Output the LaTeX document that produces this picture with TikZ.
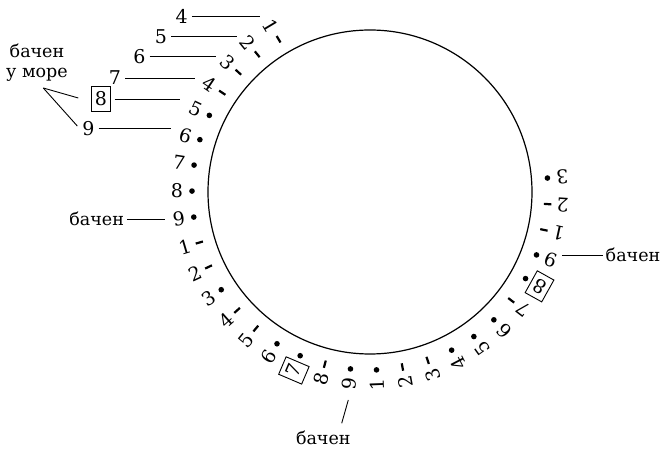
\documentclass[tikz,border=0pt]{standalone}
\usepackage{fontspec}
\setmainfont{DejaVu Serif}
\newfontfamily\diagfont{DejaVu Serif}
\begin{document}
\begin{tikzpicture}[x=1pt,y=1pt,
  lbl/.style={font=\diagfont\fontsize{19}{19}\selectfont, inner sep=0pt},
  word/.style={font=\diagfont\fontsize{17.5}{20}\selectfont, inner sep=0pt},
  boxlbl/.style={lbl, draw, line width=0.9pt, minimum width=19pt, minimum height=25pt},
  dashmark/.style={fill=black, draw=none, rectangle, inner sep=0pt, minimum width=7.5pt, minimum height=2.2pt},
  dotmark/.style={fill=black, draw=none, circle, inner sep=0pt, minimum size=5.6pt},
  leader/.style={line width=0.9pt}]
\useasboundingbox (-370,-257) rectangle (291,192);
\node[circle, draw, line width=1.2pt, minimum size=324pt, inner sep=0pt] (ring) at (0,0) {};
% marks
\foreach \i in {0,1,2,3,9,10,12,13,16,19,20,24,27,28} {
  \pgfmathsetmacro\a{120.9+8.4*\i}
  \node[dashmark, rotate=\a] (m\i) at (\a:178) {};
}
\foreach \i in {4,5,6,7,8,11,14,15,17,18,21,22,23,25,26,29} {
  \pgfmathsetmacro\a{120.9+8.4*\i}
  \node[dotmark] (m\i) at (\a:178) {};
}
% labels
\foreach \i in {0,...,14,16,17,18,19,20,21,22,23,24,26,27,28,29} {
  \pgfmathsetmacro\a{120.9+8.4*\i}
  \pgfmathsetmacro\rr{\a+180}
  \pgfmathtruncatemacro\d{mod(\i,9)+1}
  \node[lbl, rotate=\rr] (l\i) at (\a:193) {\d};
}
\foreach \i in {15,25} {
  \pgfmathsetmacro\a{120.9+8.4*\i}
  \pgfmathsetmacro\rr{\a+180}
  \pgfmathtruncatemacro\d{mod(\i,9)+1}
  \node[boxlbl, rotate=\rr] (l\i) at (\a:194) {\d};
}
% outer numbers, top left
\node[lbl] (o4) at (-188.3,175.3) {4};
\node[lbl] (o5) at (-209,155.3) {5};
\node[lbl] (o6) at (-230.7,135.5) {6};
\node[lbl] (o7) at (-255,114) {7};
\node[boxlbl] (o8) at (-269.2,93) {8};
\node[lbl] (o9) at (-281.7,63.7) {9};
\coordinate (e1) at (-110,175.3);
\coordinate (e2) at (-132.7,155.3);
\coordinate (e3) at (-154,135.5);
\coordinate (e4) at (-175,114);
\coordinate (e5) at (-190,93);
\coordinate (e6) at (-199.3,63.7);
\draw[leader, shorten <=4pt] (o4.east) -- (e1);
\draw[leader, shorten <=4pt] (o5.east) -- (e2);
\draw[leader, shorten <=4pt] (o6.east) -- (e3);
\draw[leader, shorten <=4pt] (o7.east) -- (e4);
\draw[leader, shorten <=4pt] (o8.east) -- (e5);
\draw[leader, shorten <=4pt] (o9.east) -- (e6);
% bachen u more
\node[word, align=center] (bum) at (-333,129) {бачен\\у море};
\coordinate (apex) at (-326.7,104);
\coordinate (t8) at (-291.7,94);
\coordinate (t9) at (-292.7,66);
\draw[leader] (apex) -- (t8);
\draw[leader] (apex) -- (t9);
% left bachen
\node[word] (bl) at (-273.3,-27) {бачен};
\coordinate (ble) at (-205,-27);
\draw[leader, shorten <=3pt] (bl.east) -- (ble);
% bottom bachen
\node[word] (bb) at (-46.7,-245.5) {бачен};
\coordinate (bbs) at (-28.3,-231.3);
\coordinate (bbe) at (-21.7,-208);
\draw[leader] (bbs) -- (bbe);
% right bachen
\node[word] (br) at (263,-63) {бачен};
\coordinate (bre) at (191.7,-63);
\draw[leader, shorten <=3pt] (br.west) -- (bre);
\end{tikzpicture}
\end{document}
